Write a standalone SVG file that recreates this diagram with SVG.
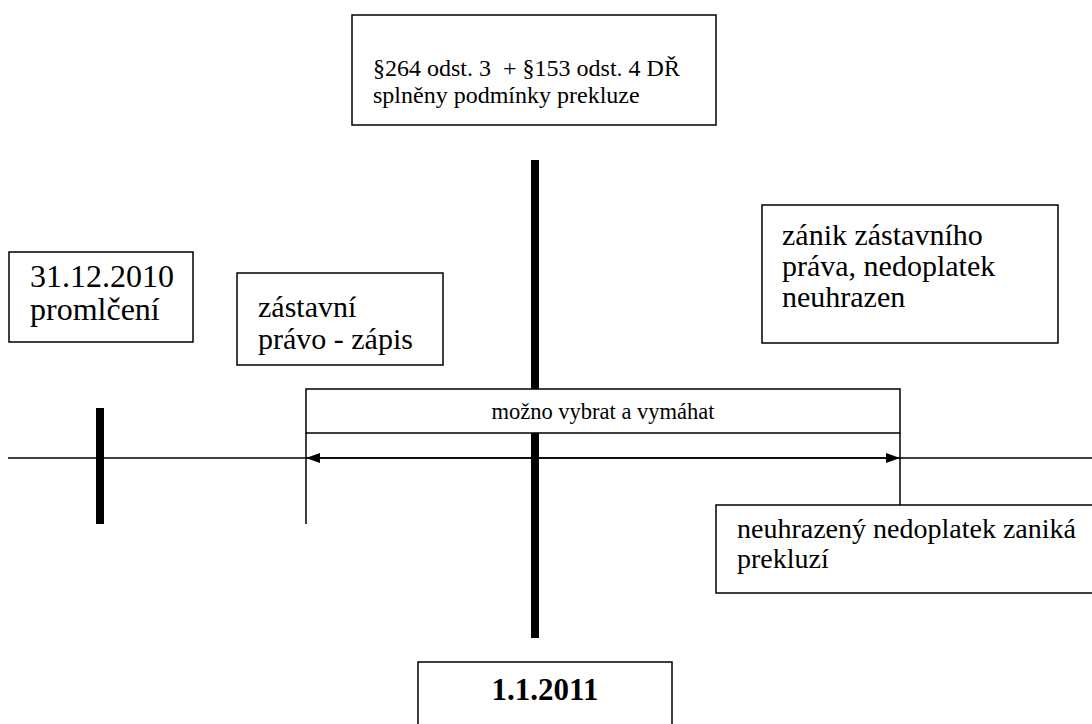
<svg xmlns="http://www.w3.org/2000/svg" width="1092" height="724" viewBox="0 0 1092 724">
<style>
.box{fill:#fff;stroke:#000;stroke-width:1.5}
.t{font-family:"Liberation Serif","Times New Roman",serif;fill:#000}
.thin{stroke:#000;stroke-width:1.5;fill:none}
.thick{stroke:#000;stroke-width:8;fill:none}
</style>
<defs>
<marker id="ah" viewBox="0 0 14 10" refX="14" refY="5" markerWidth="14" markerHeight="10" markerUnits="userSpaceOnUse" orient="auto-start-reverse">
<path d="M0,0 L14,5 L0,10 Z" fill="#000"/>
</marker>
</defs>
<rect width="1092" height="724" fill="#fff"/>
<g id="connectors">
<line class="thin" x1="8" y1="458" x2="1092" y2="458"/>
<line class="thin" x1="306" y1="458" x2="900" y2="458" marker-start="url(#ah)" marker-end="url(#ah)"/>
<line class="thick" x1="535" y1="160" x2="535" y2="638"/>
<line class="thick" x1="100" y1="408" x2="100" y2="524"/>
<line class="thin" x1="306" y1="433" x2="306" y2="524"/>
<line class="thin" x1="900" y1="433" x2="900" y2="505"/>
</g>
<g id="n-top">
<rect class="box" x="352" y="15" width="364" height="110"/>
<text class="t" x="373" y="76" font-size="24" style="white-space:pre">§264 odst. 3  + §153 odst. 4 DŘ</text>
<text class="t" x="373" y="103" font-size="24">splněny podmínky prekluze</text>
</g>
<g id="n-promlceni">
<rect class="box" x="9" y="252" width="184" height="90"/>
<text class="t" x="30" y="287" font-size="32">31.12.2010</text>
<text class="t" x="30" y="320" font-size="32">promlčení</text>
</g>
<g id="n-zastavni">
<rect class="box" x="237" y="273" width="206" height="92"/>
<text class="t" x="258" y="317" font-size="30">zástavní</text>
<text class="t" x="258" y="349" font-size="30">právo - zápis</text>
</g>
<g id="n-zanik">
<rect class="box" x="762" y="205" width="296" height="138"/>
<text class="t" x="782" y="245" font-size="30">zánik zástavního</text>
<text class="t" x="782" y="276" font-size="30">práva, nedoplatek</text>
<text class="t" x="782" y="307" font-size="30">neuhrazen</text>
</g>
<g id="n-mozno">
<rect class="box" x="306" y="389" width="594" height="44"/>
<text class="t" x="603" y="419" font-size="22.5" text-anchor="middle">možno vybrat a vymáhat</text>
</g>
<g id="n-neuhrazeny">
<rect class="box" x="716" y="505" width="390" height="88"/>
<text class="t" x="737" y="538" font-size="28">neuhrazený nedoplatek zaniká</text>
<text class="t" x="737" y="568" font-size="28">prekluzí</text>
</g>
<g id="n-date">
<rect class="box" x="418" y="662" width="254" height="80"/>
<text class="t" x="545" y="700" font-size="31" font-weight="bold" text-anchor="middle">1.1.2011</text>
</g>
</svg>
